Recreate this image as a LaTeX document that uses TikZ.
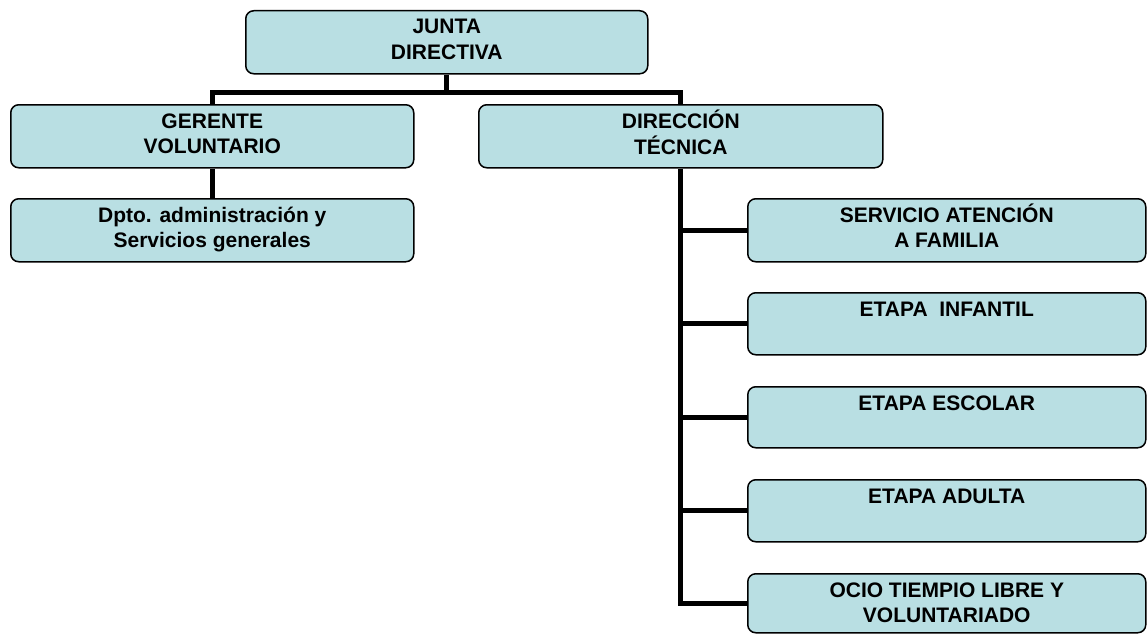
\documentclass[tikz,border=0pt]{standalone}
\usepackage{fontspec}
\setmainfont{Liberation Sans}
\usetikzlibrary{backgrounds}
\definecolor{boxfill}{RGB}{185,223,227}
\begin{document}
\begin{tikzpicture}[x=1pt,y=-1pt,
  box/.style={draw=black, line width=1.5pt, fill=boxfill, rounded corners=8pt, rectangle, anchor=north west, inner sep=0pt},
  conn/.style={draw=black, line width=5pt, line join=miter},
  txt/.style={anchor=base, inner sep=0pt, font=\fontsize{21}{25.5}\selectfont\bfseries}]
\useasboundingbox (0,0) rectangle (1147,634);
\setlength{\tabcolsep}{0pt}
% boxes
\path (245,10) node[box, minimum width=402pt, minimum height=63pt] (jd) {};
\path (10,104) node[box, minimum width=403pt, minimum height=63pt] (gv) {};
\path (10,198) node[box, minimum width=403pt, minimum height=63pt] (dp) {};
\path (478,104) node[box, minimum width=404pt, minimum height=63pt] (dt) {};
\path (747,198) node[box, minimum width=398pt, minimum height=63pt] (sa) {};
\path (747,292) node[box, minimum width=398pt, minimum height=62pt] (ei) {};
\path (747,386) node[box, minimum width=398pt, minimum height=61pt] (ee) {};
\path (747,479) node[box, minimum width=398pt, minimum height=62pt] (ea) {};
\path (747,573) node[box, minimum width=398pt, minimum height=59pt] (oc) {};
% connectors behind the boxes
\begin{pgfonlayer}{background}
\coordinate (hb) at (446,92);
\draw[conn] (jd.south) -- (jd.south |- hb);
\draw[conn] (gv.north) -- (gv.north |- hb) -- (dt.north |- hb) -- (dt.north);
\draw[conn] (gv.south) -- (dp.north);
\draw[conn] (dt.south) |- (oc.west);
\draw[conn] (dt.south |- sa.west) -- (sa.west);
\draw[conn] (dt.south |- ei.west) -- (ei.west);
\draw[conn] (dt.south |- ee.west) -- (ee.west);
\draw[conn] (dt.south |- ea.west) -- (ea.west);
\end{pgfonlayer}
% texts
\node[txt] (tjd) at ([yshift=-24pt]jd.north) {\begin{tabular}[t]{c}JUNTA\\DIRECTIVA\end{tabular}};
\node[txt] (tgv) at ([yshift=-24pt]gv.north) {\begin{tabular}[t]{c}GERENTE\\VOLUNTARIO\end{tabular}};
\node[txt] (tdp) at ([yshift=-24pt]dp.north) {\begin{tabular}[t]{c}Dpto. administración y\\Servicios generales\end{tabular}};
\node[txt] (tdt) at ([yshift=-24pt]dt.north) {\begin{tabular}[t]{c}DIRECCIÓN\\TÉCNICA\end{tabular}};
\node[txt] (tsa) at ([yshift=-24pt]sa.north) {\begin{tabular}[t]{c}SERVICIO ATENCIÓN\\A FAMILIA\end{tabular}};
\node[txt] (tei) at ([yshift=-24pt]ei.north) {ETAPA\ \ INFANTIL};
\node[txt] (tee) at ([yshift=-24pt]ee.north) {ETAPA ESCOLAR};
\node[txt] (tea) at ([yshift=-24pt]ea.north) {ETAPA ADULTA};
\node[txt] (toc) at ([yshift=-24pt]oc.north) {\begin{tabular}[t]{c}OCIO TIEMPIO LIBRE Y\\VOLUNTARIADO\end{tabular}};
\end{tikzpicture}
\end{document}
